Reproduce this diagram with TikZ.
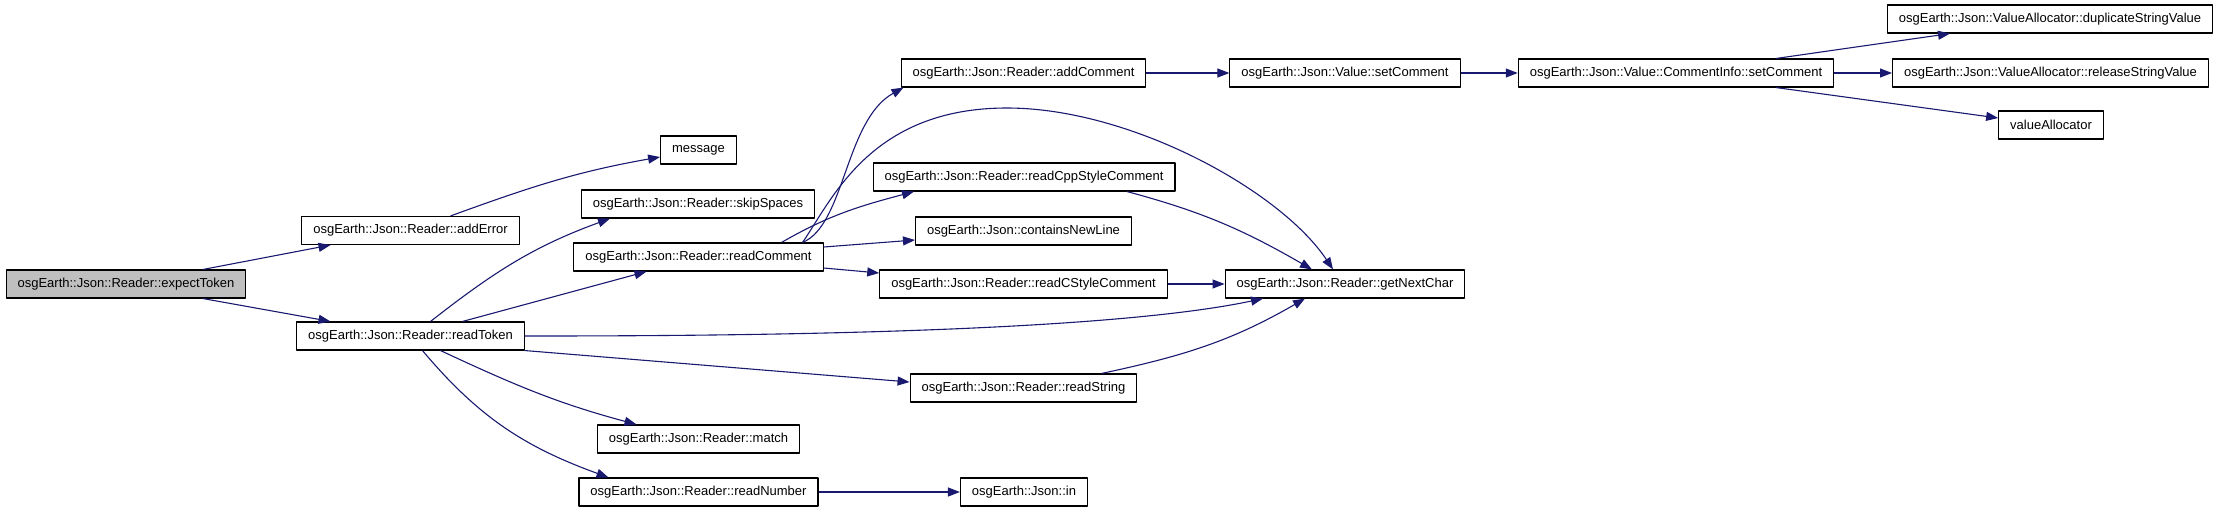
\documentclass[tikz,border=0pt]{standalone}
\usepackage{fontspec}
\setmainfont{Liberation Sans}
\usetikzlibrary{arrows.meta}
\definecolor{edgeblue}{RGB}{25,25,112}
\definecolor{rootgray}{RGB}{191,191,191}

\begin{document}
\begin{tikzpicture}[
    x=1pt,
    y=-1pt,
    fn/.style={draw=black, line width=1.1pt, fill=white, minimum height=28pt,
        inner xsep=11.5pt, inner ysep=0pt, font=\fontsize{13}{15}\selectfont},
    root/.style={fn, fill=rootgray},
    call/.style={draw=edgeblue, line width=1.1pt, -{Triangle[length=12pt,width=9pt]}},
    line join=round
]
    \useasboundingbox (0,0) rectangle (2221,512);

    % 起点
    \node[root] (expect) at (126,284) {osgEarth::Json::Reader::expectToken};

    % 第二列
    \node[fn] (adderr) at (410.5,230.5) {osgEarth::Json::Reader::addError};
    \node[fn] (rtok) at (410.5,336) {osgEarth::Json::Reader::readToken};

    % 第三列
    \node[fn] (msg) at (698.5,150) {message};
    \node[fn] (skip) at (698,204) {osgEarth::Json::Reader::skipSpaces};
    \node[fn] (rcomm) at (698.5,257) {osgEarth::Json::Reader::readComment};
    \node[fn] (match) at (698.5,439) {osgEarth::Json::Reader::match};
    \node[fn] (rnum) at (698.5,492) {osgEarth::Json::Reader::readNumber};

    % 第四列
    \node[fn] (addcomm) at (1023.5,73) {osgEarth::Json::Reader::addComment};
    \node[fn] (rcpp) at (1024,177) {osgEarth::Json::Reader::readCppStyleComment};
    \node[fn] (newline) at (1023.5,231) {osgEarth::Json::containsNewLine};
    \node[fn] (rcsty) at (1023.5,284) {osgEarth::Json::Reader::readCStyleComment};
    \node[fn] (rstr) at (1023.5,388) {osgEarth::Json::Reader::readString};
    \node[fn] (jin) at (1024,492) {osgEarth::Json::in};

    % 第五列
    \node[fn] (vset) at (1345,73) {osgEarth::Json::Value::setComment};
    \node[fn] (getch) at (1345,284) {osgEarth::Json::Reader::getNextChar};

    % 右侧
    \node[fn] (cset) at (1676,73) {osgEarth::Json::Value::CommentInfo::setComment};
    \node[fn] (dup) at (2050,19) {osgEarth::Json::ValueAllocator::duplicateStringValue};
    \node[fn] (rel) at (2050.5,73) {osgEarth::Json::ValueAllocator::releaseStringValue};
    \node[fn] (valloc) at (2051,125) {valueAllocator};

    % expectToken 的调用
    \draw[call] ([xshift=77pt]expect.north) -- ([xshift=-80pt]adderr.south);
    \draw[call] ([xshift=77pt]expect.south) -- ([xshift=-80pt]rtok.north);
    \draw[call] ([xshift=40pt]adderr.north) to[out=20,in=190] ([yshift=-7pt]msg.west);

    % readToken 的调用
    \draw[call] ([xshift=20pt]rtok.north) to[out=38,in=200] ([xshift=-88pt]skip.south);
    \draw[call] ([xshift=52pt]rtok.north) -- ([xshift=-52pt]rcomm.south);
    \draw[call] (rtok.east) to[out=0,in=192,looseness=0.6] ([xshift=-82pt]getch.south);
    \draw[call] (rtok.south east) -- ([yshift=6pt]rstr.west);
    \draw[call] ([xshift=30pt]rtok.south) to[out=-25,in=165] ([xshift=-62pt]match.north);
    \draw[call] ([xshift=12pt]rtok.south) to[out=-50,in=160] ([xshift=-90pt]rnum.north);

    % readComment 的调用
    \draw[call] ([xshift=104pt]rcomm.north) .. controls (845,225) and (845,120) .. ([xshift=-120pt]addcomm.south);
    \draw[call] ([xshift=104pt]rcomm.north) .. controls (832,200) and (870,108) .. (1007,108)
        .. controls (1130,108) and (1280,190) .. ([xshift=-12pt]getch.north);
    \draw[call] ([xshift=83pt]rcomm.north) to[out=30,in=195] ([xshift=-110pt]rcpp.south);
    \draw[call] ([yshift=10pt]rcomm.east) -- ([yshift=-9pt]newline.west);
    \draw[call] ([yshift=-11pt]rcomm.east) -- ([yshift=11pt]rcsty.west);

    % 到 getNextChar
    \draw[call] ([xshift=103pt]rcpp.south) to[out=-15,in=150] ([xshift=-33pt]getch.north);
    \draw[call] (rcsty) -- (getch);
    \draw[call] ([xshift=78pt]rstr.north) to[out=12,in=210] ([xshift=-40pt]getch.south);
    \draw[call] (rnum) -- (jin);

    % setComment 链
    \draw[call] (addcomm) -- (vset);
    \draw[call] (vset) -- (cset);
    \draw[call] ([xshift=100pt]cset.north) -- ([xshift=-100pt]dup.south);
    \draw[call] (cset) -- (rel);
    \draw[call] ([xshift=100pt]cset.south) -- ([yshift=7pt]valloc.west);

\end{tikzpicture}
\end{document}
